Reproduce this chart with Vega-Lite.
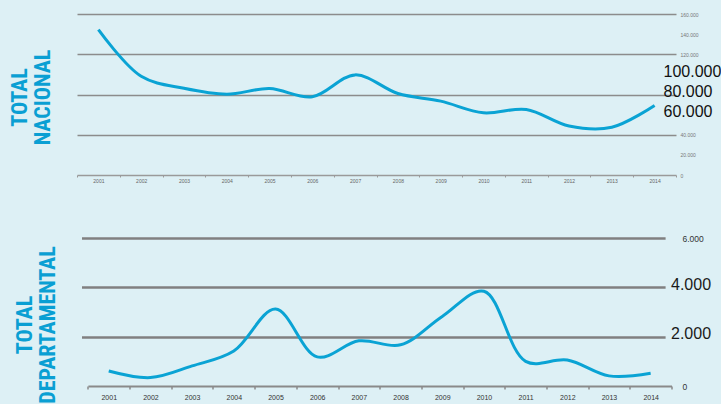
{
  "$schema": "https://vega.github.io/schema/vega-lite/v6.json",
  "background": "#ddf0f5",
  "padding": {"left": 8, "top": 12, "right": 0, "bottom": 0},
  "bounds": "flush",
  "center": true,
  "spacing": 63,
  "config": {"view": {"stroke": null}, "font": "Liberation Sans"},
  "vconcat": [
    {
      "width": 599,
      "height": 161,
      "title": {"text": ["TOTAL", "NACIONAL"], "orient": "left", "anchor": "middle", "font": "Liberation Sans Narrow, Roboto Condensed, DejaVu Sans Condensed, sans-serif", "fontWeight": "bold", "fontSize": 22, "lineHeight": 23, "color": "#0a9fd3", "offset": 21.6, "dx": -3},
      "data": {"values": [
        {"year": "2001", "value": 144400},
        {"year": "2002", "value": 98100},
        {"year": "2003", "value": 86200},
        {"year": "2004", "value": 80300},
        {"year": "2005", "value": 85900},
        {"year": "2006", "value": 77700},
        {"year": "2007", "value": 99500},
        {"year": "2008", "value": 81000},
        {"year": "2009", "value": 73400},
        {"year": "2010", "value": 61800},
        {"year": "2011", "value": 65100},
        {"year": "2012", "value": 48700},
        {"year": "2013", "value": 47500},
        {"year": "2014", "value": 69100}
      ]},
      "mark": {"type": "line", "interpolate": "catmull-rom", "color": "#0aa3d4", "strokeWidth": 3},
      "encoding": {
        "x": {"field": "year", "type": "ordinal", "bandPosition": 0.5,
          "scale": {"type": "band", "paddingInner": 0, "paddingOuter": 0},
          "axis": {"title": null, "labelAngle": 0, "tickBand": "extent", "labelFontSize": 5, "labelColor": "#666666", "domainColor": "#9a9a9a", "domainWidth": 1.5, "tickColor": "#9a9a9a", "tickSize": 2, "labelPadding": 1.5, "grid": false}},
        "y": {"field": "value", "type": "quantitative",
          "scale": {"domain": [0, 160000], "nice": false},
          "axis": {"orient": "right", "title": null, "values": [0, 20000, 40000, 60000, 80000, 100000, 120000, 140000, 160000],
            "domain": false, "ticks": false, "grid": true, "gridColor": "#8c8c8c", "gridWidth": 1.3,
            "gridOpacity": {"condition": {"test": "datum.value % 40000 === 0 && datum.value > 0", "value": 1}, "value": 0},
            "labelExpr": "datum.value == 0 ? '0' : (datum.value / 1000) + '.000'",
            "labelAlign": "left", "labelBaseline": "middle",
            "labelFontSize": {"condition": {"test": "datum.value >= 60000 && datum.value <= 100000", "value": 16}, "value": 5},
            "labelPadding": {"condition": {"test": "datum.value >= 60000 && datum.value <= 100000", "value": -13}, "value": 4},
            "labelOffset": {"condition": {"test": "datum.value >= 60000 && datum.value <= 100000", "value": -3}, "value": 0},
            "labelColor": {"condition": {"test": "datum.value >= 60000 && datum.value <= 100000", "value": "#111111"}, "value": "#777777"}
          }}
      }
    },
    {
      "width": 590,
      "height": 148,
      "title": {"text": ["TOTAL", "DEPARTAMENTAL"], "orient": "left", "anchor": "middle", "font": "Liberation Sans Narrow, Roboto Condensed, DejaVu Sans Condensed, sans-serif", "fontWeight": "bold", "fontSize": 22, "lineHeight": 23, "color": "#0a9fd3", "offset": 22, "dx": -13},
      "data": {"values": [
        {"year": "2001", "value": 610},
        {"year": "2002", "value": 340},
        {"year": "2003", "value": 815},
        {"year": "2004", "value": 1420},
        {"year": "2005", "value": 3120},
        {"year": "2006", "value": 1180},
        {"year": "2007", "value": 1830},
        {"year": "2008", "value": 1670},
        {"year": "2009", "value": 2820},
        {"year": "2010", "value": 3840},
        {"year": "2011", "value": 1000},
        {"year": "2012", "value": 1050},
        {"year": "2013", "value": 410},
        {"year": "2014", "value": 515}
      ]},
      "mark": {"type": "line", "interpolate": "catmull-rom", "color": "#0aa3d4", "strokeWidth": 3},
      "encoding": {
        "x": {"field": "year", "type": "ordinal", "bandPosition": 0.5,
          "scale": {"type": "band", "paddingInner": 0, "paddingOuter": 0, "rangeMin": 6.4},
          "axis": {"title": null, "labelAngle": 0, "tickBand": "extent", "labelFontSize": 7, "labelColor": "#333333", "domainColor": "#8a8a8a", "domainWidth": 2, "tickColor": "#8a8a8a", "tickWidth": 1.5, "tickSize": 3, "labelPadding": 4, "grid": false}},
        "y": {"field": "value", "type": "quantitative",
          "scale": {"domain": [0, 6000], "nice": false},
          "axis": {"orient": "right", "title": null, "values": [0, 2000, 4000, 6000],
            "domain": false, "ticks": false, "grid": true, "gridColor": "#808080", "gridWidth": 2.5,
            "gridOpacity": {"condition": {"test": "datum.value > 0", "value": 1}, "value": 0},
            "labelExpr": "datum.value == 0 ? '0' : (datum.value / 1000) + '.000'",
            "labelAlign": "left", "labelBaseline": "middle",
            "labelFontSize": {"condition": {"test": "datum.value == 2000 || datum.value == 4000", "value": 16}, "value": 8.5},
            "labelPadding": {"condition": {"test": "datum.value == 2000 || datum.value == 4000", "value": -1}, "value": 10.5},
            "labelOffset": {"condition": {"test": "datum.value == 2000 || datum.value == 4000", "value": -3}, "value": 0},
            "labelColor": {"condition": {"test": "datum.value == 2000 || datum.value == 4000", "value": "#1a1a1a"}, "value": "#333333"}
          }}
      }
    }
  ]
}
